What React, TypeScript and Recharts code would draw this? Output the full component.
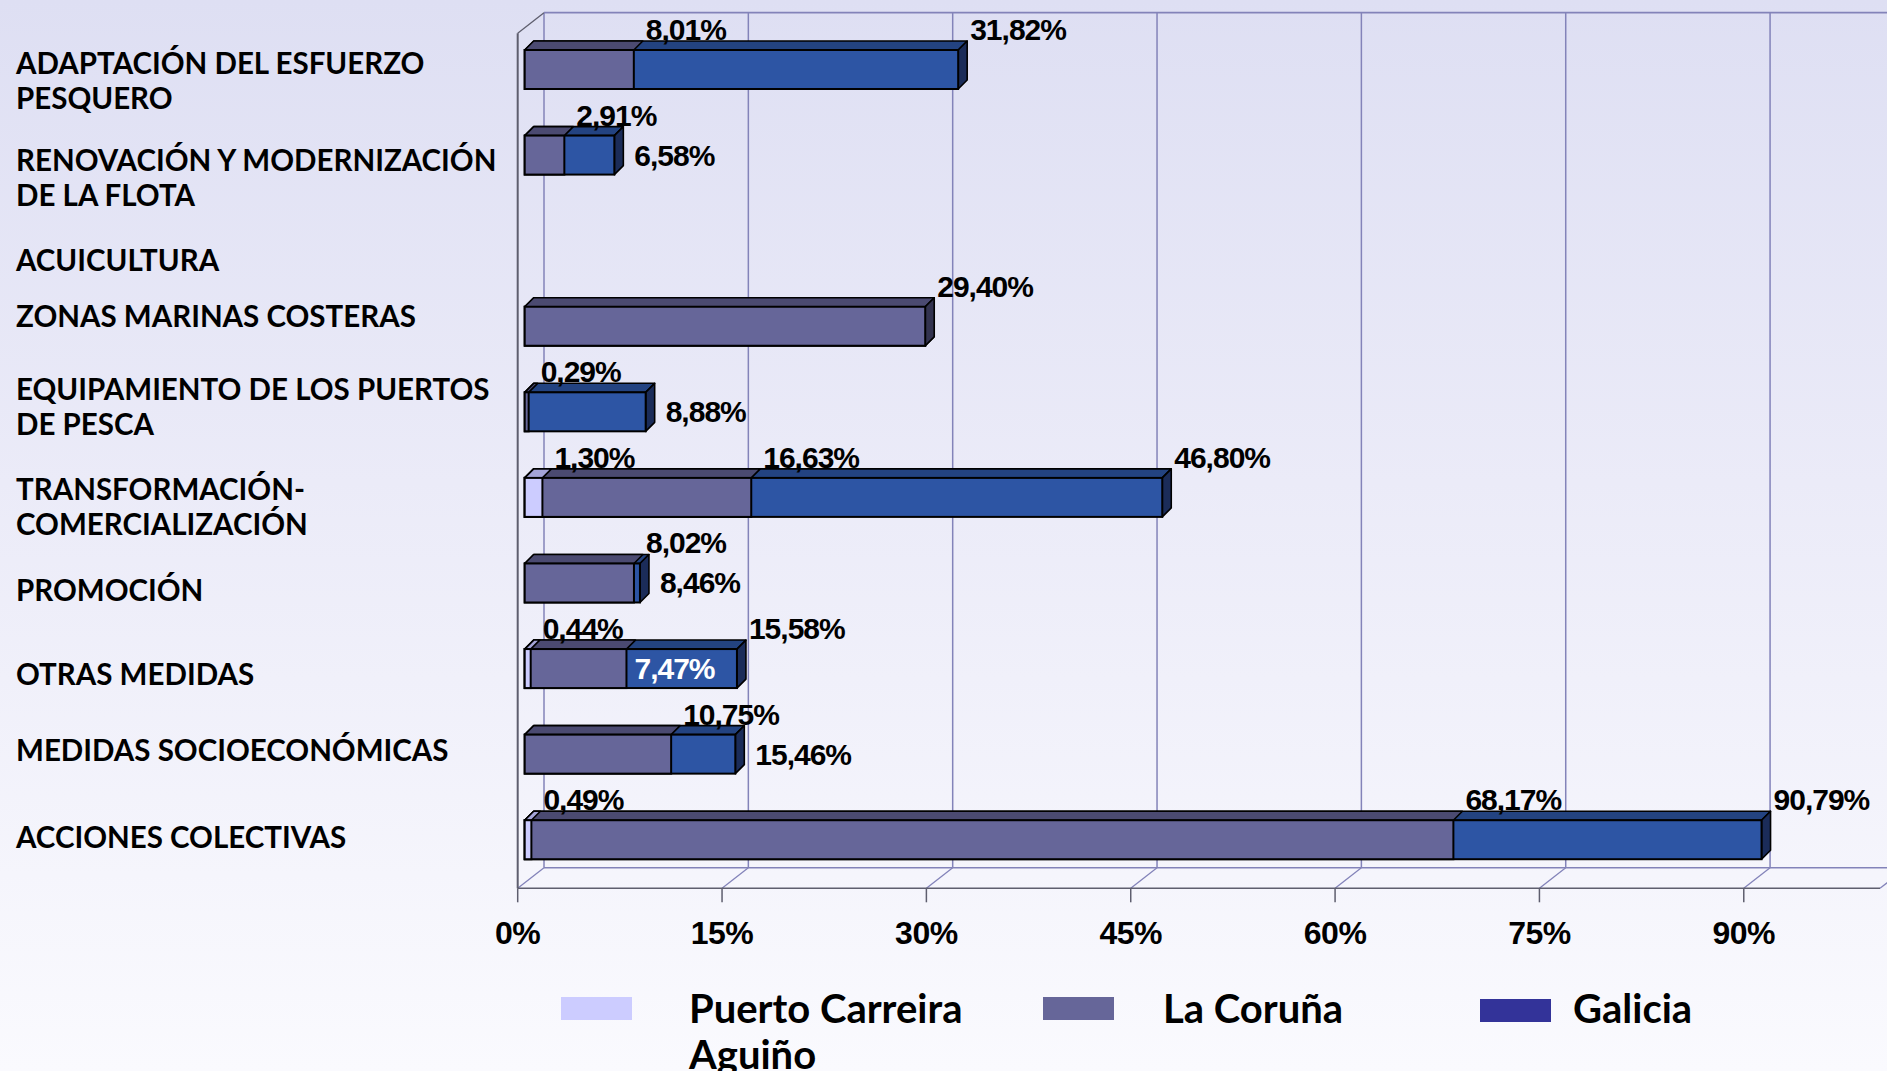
import React from 'react';
import {
  BarChart,
  Bar,
  XAxis,
  YAxis,
  CartesianGrid,
  ReferenceArea,
  LabelList,
} from 'recharts';

// ---------------- DATA ----------------
const categories: string[] = [
  'ADAPTACIÓN DEL ESFUERZO\nPESQUERO',
  'RENOVACIÓN Y MODERNIZACIÓN\nDE LA FLOTA',
  'ACUICULTURA',
  'ZONAS MARINAS COSTERAS',
  'EQUIPAMIENTO DE LOS PUERTOS\nDE PESCA',
  'TRANSFORMACIÓN-\nCOMERCIALIZACIÓN',
  'PROMOCIÓN',
  'OTRAS MEDIDAS',
  'MEDIDAS SOCIOECONÓMICAS',
  'ACCIONES COLECTIVAS',
];
const puertoCarreira: (number | null)[] = [null, null, null, null, null, 1.3, null, 0.44, null, 0.49];
const laCoruna: (number | null)[] = [8.01, 2.91, null, 29.4, 0.29, 16.63, 8.02, 7.47, 10.75, 68.17];
const galicia: (number | null)[] = [31.82, 6.58, null, 29.4, 8.88, 46.8, 8.46, 15.58, 15.46, 90.79];
const seriesNames: string[] = ['Puerto Carreira Aguiño', 'La Coruña', 'Galicia'];
const xTicks: number[] = [0, 15, 30, 45, 60, 75, 90];

// ---------------- STYLE / LAYOUT ----------------
const SERIES_KEYS = ['puerto', 'coruna', 'galicia'] as const;
type SKey = typeof SERIES_KEYS[number];
const COLORS: Record<SKey, { front: string; top: string; side: string; legend: string }> = {
  puerto: { front: '#CCCCFF', top: '#A4A4D8', side: '#8484B6', legend: '#CCCCFF' },
  coruna: { front: '#666699', top: '#4B4A71', side: '#33334F', legend: '#666699' },
  galicia: { front: '#2D55A4', top: '#234381', side: '#1B2C59', legend: '#333399' },
};
const LABEL_MODE: Record<SKey, string[]> = {
  puerto: ['top', 'top', 'top', 'top', 'top', 'top', 'top', 'top', 'top', 'top'],
  coruna: ['top', 'top', 'none', 'top', 'top', 'top', 'top', 'inside', 'top', 'top'],
  galicia: ['top', 'right', 'none', 'none', 'right', 'top', 'right', 'top', 'right', 'top'],
};
const CATEGORY_LABEL_NUDGE = [11.5, 22.5, 20, -10.5, -5.5, 9, 7.6, 5.8, -4, -2.8];

const DEPTH = 9; // bar depth
const FRONT = { dx: -7, dy: 5.5 }; // front floor plane offset from bar plane
const BACK = { dx: 19.3, dy: -15 }; // back wall offset from bar plane (bottom)
const BACK_TOP_DY = -14.3;
const GRID_COLOR = '#8383B9';
const FRONT_COLOR = '#5E5E6E';

const LABEL_FONT = "'Liberation Sans', Arial, Helvetica, sans-serif";
const CAT_FONT = "Lato, 'Noto Sans', sans-serif";

const fmt = (v: number) => v.toFixed(2).replace('.', ',') + '%';

// ---------------- RENDERERS ----------------
const make3DBar = (key: SKey) => (props: any) => {
  const { x, y, width, height, payload } = props;
  if (payload == null || payload[key] == null || !(width > 0)) return <g />;
  const c = COLORS[key];
  const vals = SERIES_KEYS.map((k) => (payload[k] == null ? 0 : payload[k]));
  const isOuter = payload[key] >= Math.max(...vals);
  const d = DEPTH;
  const topPts = `${x},${y} ${x + d},${y - d} ${x + width + d},${y - d} ${x + width},${y}`;
  const sidePts = `${x + width},${y} ${x + width + d},${y - d} ${x + width + d},${y + height - d} ${x + width},${y + height}`;
  return (
    <g>
      <polygon points={topPts} fill={c.top} stroke="#000" strokeWidth={1.6} strokeLinejoin="round" />
      {isOuter && (
        <polygon points={sidePts} fill={c.side} stroke="#000" strokeWidth={1.6} strokeLinejoin="round" />
      )}
      <rect x={x} y={y} width={width} height={height} fill={c.front} stroke="#000" strokeWidth={2} />
    </g>
  );
};

const makeLabel = (key: SKey) => (props: any) => {
  const row = props.value;
  if (row == null || typeof row !== 'object') return null;
  const v = row[key];
  if (v == null) return null;
  const catIdx = categories.indexOf(row.name);
  const mode = LABEL_MODE[key][catIdx];
  if (!mode || mode === 'none') return null;
  const vb = props.viewBox ?? props;
  const { x, y, width, height } = vb;
  let tx = x + width + 12;
  let ty = y - 10;
  let fill = '#000';
  if (mode === 'right') {
    tx = x + width + 20;
    ty = y + height / 2 + 10.5;
  } else if (mode === 'inside') {
    tx = x + width + 8;
    ty = y + height / 2 + 10.5;
    fill = '#fff';
  }
  return (
    <text
      x={tx}
      y={ty}
      fill={fill}
      fontFamily={LABEL_FONT}
      fontWeight="bold"
      fontSize={30}
      letterSpacing={-1}
      textAnchor="start"
    >
      {fmt(v)}
    </text>
  );
};

const renderGridLine = (p: any) => {
  const { x1, y1, y2 } = p;
  if (x1 == null) return <g />;
  return (
    <g key={`g-${p.index}-${x1}`}>
      <line x1={x1 + BACK.dx} y1={y1 + BACK_TOP_DY} x2={x1 + BACK.dx} y2={y2 + BACK.dy} stroke={GRID_COLOR} strokeWidth={1.5} />
      <line x1={x1 + FRONT.dx} y1={y2 + FRONT.dy} x2={x1 + BACK.dx} y2={y2 + BACK.dy} stroke={GRID_COLOR} strokeWidth={1.3} />
      <line x1={x1 + FRONT.dx} y1={y2 + FRONT.dy} x2={x1 + FRONT.dx} y2={y2 + 19.5} stroke={FRONT_COLOR} strokeWidth={1.5} />
    </g>
  );
};

const renderFrame = (p: any) => {
  const { x, y, width, height } = p;
  const bottom = y + height;
  return (
    <g>
      <line x1={x + FRONT.dx} y1={y + 6.3} x2={x + FRONT.dx} y2={bottom + FRONT.dy} stroke={FRONT_COLOR} strokeWidth={2} />
      <line x1={x + FRONT.dx} y1={y + 6.3} x2={x + BACK.dx} y2={y + BACK_TOP_DY} stroke={FRONT_COLOR} strokeWidth={1.3} />
      <line x1={x + BACK.dx} y1={y + BACK_TOP_DY} x2={x + width + BACK.dx} y2={y + BACK_TOP_DY} stroke={GRID_COLOR} strokeWidth={1.8} />
      <line x1={x + BACK.dx} y1={bottom + BACK.dy} x2={x + width + BACK.dx} y2={bottom + BACK.dy} stroke={GRID_COLOR} strokeWidth={1.5} />
      <line x1={x + FRONT.dx} y1={bottom + FRONT.dy} x2={x + width + FRONT.dx} y2={bottom + FRONT.dy} stroke={FRONT_COLOR} strokeWidth={1.6} />
      <line x1={x + width + FRONT.dx} y1={bottom + FRONT.dy} x2={x + width + BACK.dx} y2={bottom + BACK.dy} stroke={GRID_COLOR} strokeWidth={1.3} />
    </g>
  );
};

const XTick = (props: any) => {
  const { x, y, payload } = props;
  return (
    <text
      x={x + FRONT.dx}
      y={y + 61}
      textAnchor="middle"
      fontFamily={LABEL_FONT}
      fontWeight="bold"
      fontSize={32}
      letterSpacing={-0.5}
      fill="#000"
    >
      {`${payload.value}%`}
    </text>
  );
};

const YTick = (props: any) => {
  const { y, payload } = props;
  const idx = categories.indexOf(String(payload.value));
  const lines = String(payload.value).split('\n');
  const lineH = 35;
  const center = y + (CATEGORY_LABEL_NUDGE[idx] ?? 0);
  const first = center - ((lines.length - 1) * lineH) / 2 + 10.5;
  return (
    <text x={16} y={first} textAnchor="start" fontFamily={CAT_FONT} fontWeight="bold" fontSize={29.5} fill="#000">
      {lines.map((l, i) => (
        <tspan key={i} x={16} y={first + i * lineH}>
          {l}
        </tspan>
      ))}
    </text>
  );
};

const LEGEND_LAYOUT = [
  { swatchLeft: 561, swatchTop: 997, textLeft: 689 },
  { swatchLeft: 1043, swatchTop: 997, textLeft: 1163 },
  { swatchLeft: 1480, swatchTop: 999, textLeft: 1573 },
];

const rowAccessor = (d: any) => d;

export default function App() {
  const data = categories.map((name, i) => ({
    name,
    puerto: puertoCarreira[i],
    coruna: laCoruna[i],
    galicia: galicia[i],
  }));

  return (
    <div
      style={{
        position: 'absolute',
        left: 0,
        top: 0,
        width: 1887,
        height: 1071,
        overflow: 'hidden',
        background: 'linear-gradient(to bottom, #DEDFF3 0%, #EBEBF8 45%, #FAFAFE 100%)',
      }}
    >
      <BarChart
        width={1887}
        height={1071}
        data={data}
        layout="vertical"
        margin={{ top: 27, right: 0, bottom: 128.2, left: 24.7 }}
        barSize={39}
        barGap={-39}
      >
        <CartesianGrid horizontal={false} vertical={renderGridLine} syncWithTicks />
        <ReferenceArea x1={0} x2={100} shape={renderFrame} ifOverflow="visible" />
        <XAxis
          type="number"
          domain={[0, 100]}
          ticks={xTicks}
          interval={0}
          height={60}
          axisLine={false}
          tickLine={false}
          tickSize={0}
          tickMargin={0}
          tick={<XTick />}
        />
        <YAxis
          type="category"
          dataKey="name"
          width={500}
          interval={0}
          axisLine={false}
          tickLine={false}
          tick={<YTick />}
        />
        <Bar dataKey="galicia" name={seriesNames[2]} fill={COLORS.galicia.front} shape={make3DBar('galicia')} isAnimationActive={false}>
          <LabelList dataKey={rowAccessor} content={makeLabel('galicia')} />
        </Bar>
        <Bar dataKey="coruna" name={seriesNames[1]} fill={COLORS.coruna.front} shape={make3DBar('coruna')} isAnimationActive={false}>
          <LabelList dataKey={rowAccessor} content={makeLabel('coruna')} />
        </Bar>
        <Bar dataKey="puerto" name={seriesNames[0]} fill={COLORS.puerto.front} shape={make3DBar('puerto')} isAnimationActive={false}>
          <LabelList dataKey={rowAccessor} content={makeLabel('puerto')} />
        </Bar>
      </BarChart>

      {seriesNames.map((name, i) => {
        const key = SERIES_KEYS[i];
        const lay = LEGEND_LAYOUT[i];
        return (
          <React.Fragment key={name}>
            <div
              style={{
                position: 'absolute',
                left: lay.swatchLeft,
                top: lay.swatchTop,
                width: 71,
                height: 23,
                background: COLORS[key].legend,
              }}
            />
            <div
              style={{
                position: 'absolute',
                left: lay.textLeft,
                top: 985,
                width: 290,
                fontFamily: CAT_FONT,
                fontWeight: 'bold',
                fontSize: 40,
                lineHeight: '46px',
                color: '#000',
                whiteSpace: 'normal',
              }}
            >
              {name}
            </div>
          </React.Fragment>
        );
      })}
    </div>
  );
}
